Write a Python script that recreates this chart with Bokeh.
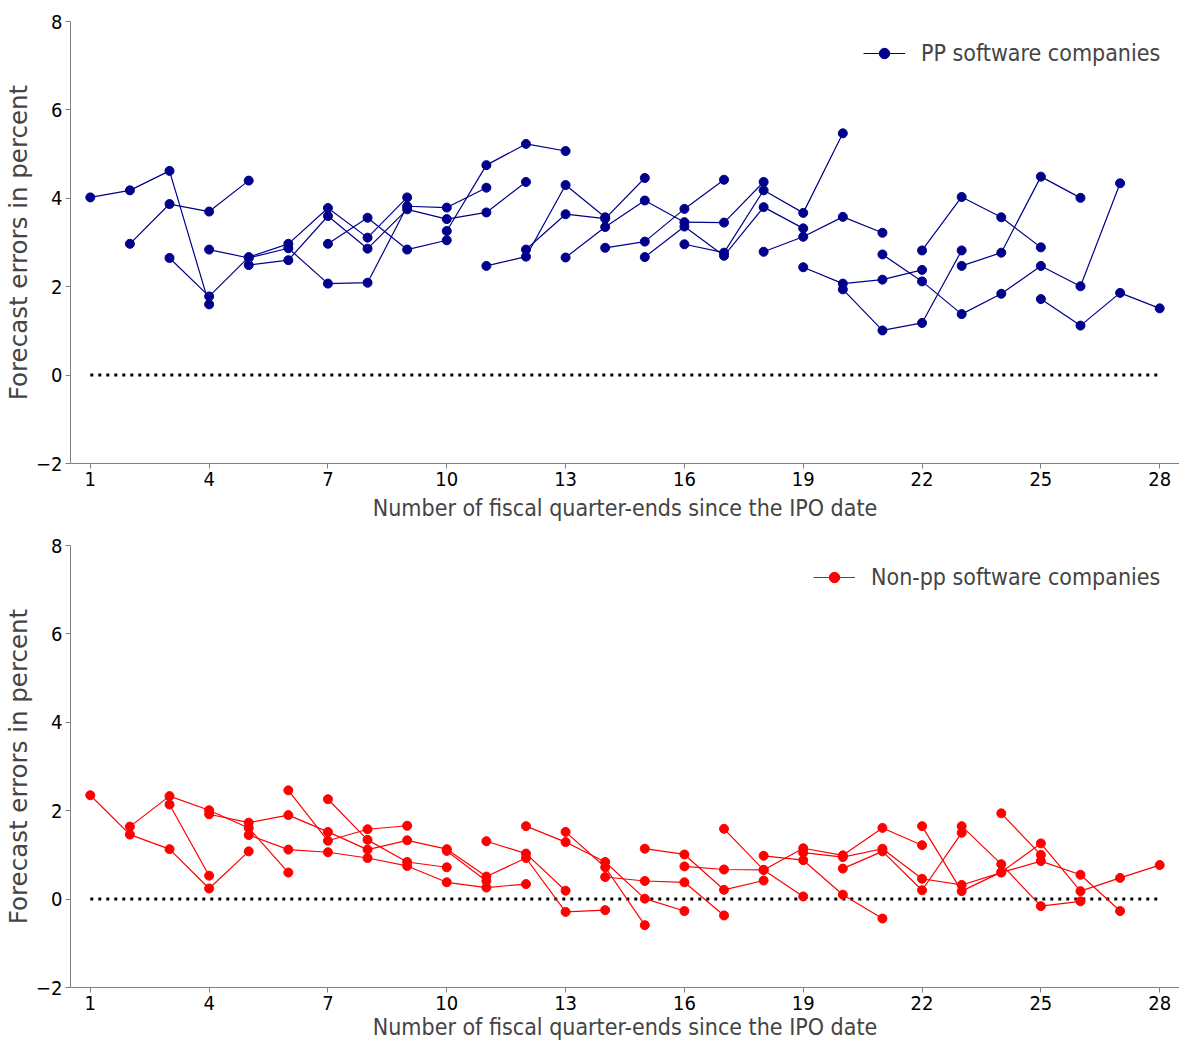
from bokeh.plotting import figure
from bokeh.layouts import column
from bokeh.models import FixedTicker, Legend, LegendItem, Range1d
from bokeh.embed import file_html
from bokeh.resources import INLINE

# ---------------- data ----------------
quarters = list(range(1, 29))
x_ticks = [1, 4, 7, 10, 13, 16, 19, 22, 25, 28]
y_ticks = [-2, 0, 2, 4, 6, 8]

# PP software companies: start quarter and forecast errors (percent)
pp_starts = [1, 2, 3, 4, 5, 7, 10, 11, 12, 13, 14, 15, 16, 18, 19, 20, 21, 22, 23, 25]
pp_values = [
    [4.02, 4.18, 4.62, 1.60],
    [2.97, 3.87, 3.70, 4.40],
    [2.65, 1.78, 2.67, 2.97, 3.78, 3.11, 4.02],
    [2.84, 2.65, 2.87, 2.07, 2.09, 3.82, 3.79, 4.24],
    [2.49, 2.60, 3.60, 2.86, 3.75, 3.53, 3.68, 4.37],
    [2.97, 3.56, 2.84, 3.05],
    [3.26, 4.75, 5.23, 5.07],
    [2.47, 2.68, 4.30, 3.57],
    [2.84, 3.64, 3.54, 4.46],
    [2.66, 3.35, 3.95, 3.46, 3.45, 4.37],
    [2.88, 3.02, 3.76, 4.42],
    [2.67, 3.36, 2.70, 3.80, 3.32],
    [2.96, 2.77, 4.18, 3.67, 5.47],
    [2.79, 3.13, 3.58, 3.22],
    [2.44, 2.07, 2.16, 2.38],
    [1.94, 1.01, 1.18, 2.82],
    [2.73, 2.12, 1.38, 1.84, 2.47, 2.01, 4.34],
    [2.82, 4.03, 3.57, 2.89],
    [2.47, 2.77, 4.49, 4.01],
    [1.72, 1.12, 1.86, 1.51],
]

# Non-pp software companies
npp_starts = [1, 2, 3, 4, 5, 6, 7, 10, 11, 12, 13, 14, 15, 16, 17, 18, 19, 20, 22, 23, 24]
npp_values = [
    [2.35, 1.46, 1.13, 0.24, 1.08],
    [1.64, 2.33, 2.01, 1.61, 0.60],
    [2.14, 0.53],
    [1.92, 1.73, 1.90, 1.52, 1.12, 1.33, 1.13, 0.51, 0.93, -0.29, -0.25],
    [1.45, 1.12, 1.06, 0.93, 0.75, 0.38, 0.26, 0.34],
    [2.46, 1.32, 1.58, 1.66],
    [2.26, 1.34, 0.84, 0.72],
    [1.09, 0.41],
    [1.31, 1.03, 0.19],
    [1.65, 1.29, 0.84, 0.01, -0.27],
    [1.52, 0.72, -0.59],
    [0.50, 0.41, 0.38, -0.37],
    [1.14, 1.01, 0.21, 0.42],
    [0.74, 0.67, 0.66, 1.15, 0.99, 1.61, 1.22],
    [1.59, 0.66, 0.06],
    [0.98, 0.88, 0.10, -0.44],
    [1.05, 0.95, 1.14, 0.46, 0.32, 0.60, 0.86, 0.55, -0.27],
    [0.69, 1.08, 0.20, 1.50],
    [1.65, 0.18, 0.61, 1.26, 0.18, 0.48, 0.77],
    [1.65, 0.79, -0.16, -0.05],
    [1.94, 1.00],
]

pp_label = "PP software companies"
npp_label = "Non-pp software companies"
x_title = "Number of fiscal quarter-ends since the IPO date"
y_title = "Forecast errors in percent"

COND = "DejaVu Sans Condensed"
NORM = "DejaVu Sans"


def build(starts, series, color, legend_text, legend_left, height, border_top,
          border_bottom, xlabel_standoff):
    p = figure(width=1179, height=height, output_backend="svg", toolbar_location=None,
               x_range=Range1d(0.5, 28.5), y_range=Range1d(-2, 8),
               min_border_left=70, min_border_right=0, min_border_top=border_top,
               min_border_bottom=border_bottom)
    p.outline_line_color = None
    p.xgrid.visible = False
    p.ygrid.visible = False
    p.background_fill_color = "white"

    # zero reference line
    p.line([quarters[0], quarters[-1]], [0, 0], line_color="black", line_width=3,
           line_dash="3 5")

    first = None
    for s, vals in zip(starts, series):
        xs = quarters[s - 1:s - 1 + len(vals)]
        lr = p.line(xs, vals, line_color=color, line_width=1.2)
        sr = p.scatter(xs, vals, size=9, fill_color=color, line_color=color)
        if first is None:
            first = [lr, sr]

    legend = Legend(items=[LegendItem(label=legend_text, renderers=first)],
                    location=(legend_left, 397), glyph_width=42, glyph_height=26,
                    label_standoff=16, padding=0, spacing=0,
                    label_text_font=COND, label_text_font_size="23px",
                    border_line_alpha=0, background_fill_alpha=0)
    p.add_layout(legend)

    for ax in (p.xaxis, p.yaxis):
        ax.axis_line_color = "#808080"
        ax.major_tick_line_color = "#808080"
        ax.major_tick_out = 5
        ax.major_tick_in = 0
        ax.minor_tick_out = 0
        ax.minor_tick_in = 0
        ax.major_label_text_font = COND
        ax.major_label_text_font_size = "20px"
        ax.major_label_text_color = "black"
        ax.major_label_standoff = 3

    p.xaxis.ticker = FixedTicker(ticks=x_ticks)
    p.yaxis.ticker = FixedTicker(ticks=y_ticks)
    p.yaxis.major_label_overrides = {t: (f"\u2212{abs(t)}" if t < 0 else str(t)) for t in y_ticks}

    p.yaxis.axis_label = y_title
    p.yaxis.axis_label_text_font = NORM
    p.yaxis.axis_label_text_font_size = "24.5px"
    p.yaxis.axis_label_text_font_style = "normal"
    p.yaxis.axis_label_standoff = 0

    p.xaxis.axis_label = x_title
    p.xaxis.axis_label_text_font = COND
    p.xaxis.axis_label_text_font_size = "23px"
    p.xaxis.axis_label_text_font_style = "normal"
    p.xaxis.axis_label_standoff = xlabel_standoff
    return p


top = build(pp_starts, pp_values, "#00008b", pp_label, 793, 532, 21, 69, 6)
bottom = build(npp_starts, npp_values, "#ff0000", npp_label, 743, 512, 13, 57, 1)

layout = column(top, bottom, spacing=0)
open("out.html", "w").write(file_html(layout, INLINE))
